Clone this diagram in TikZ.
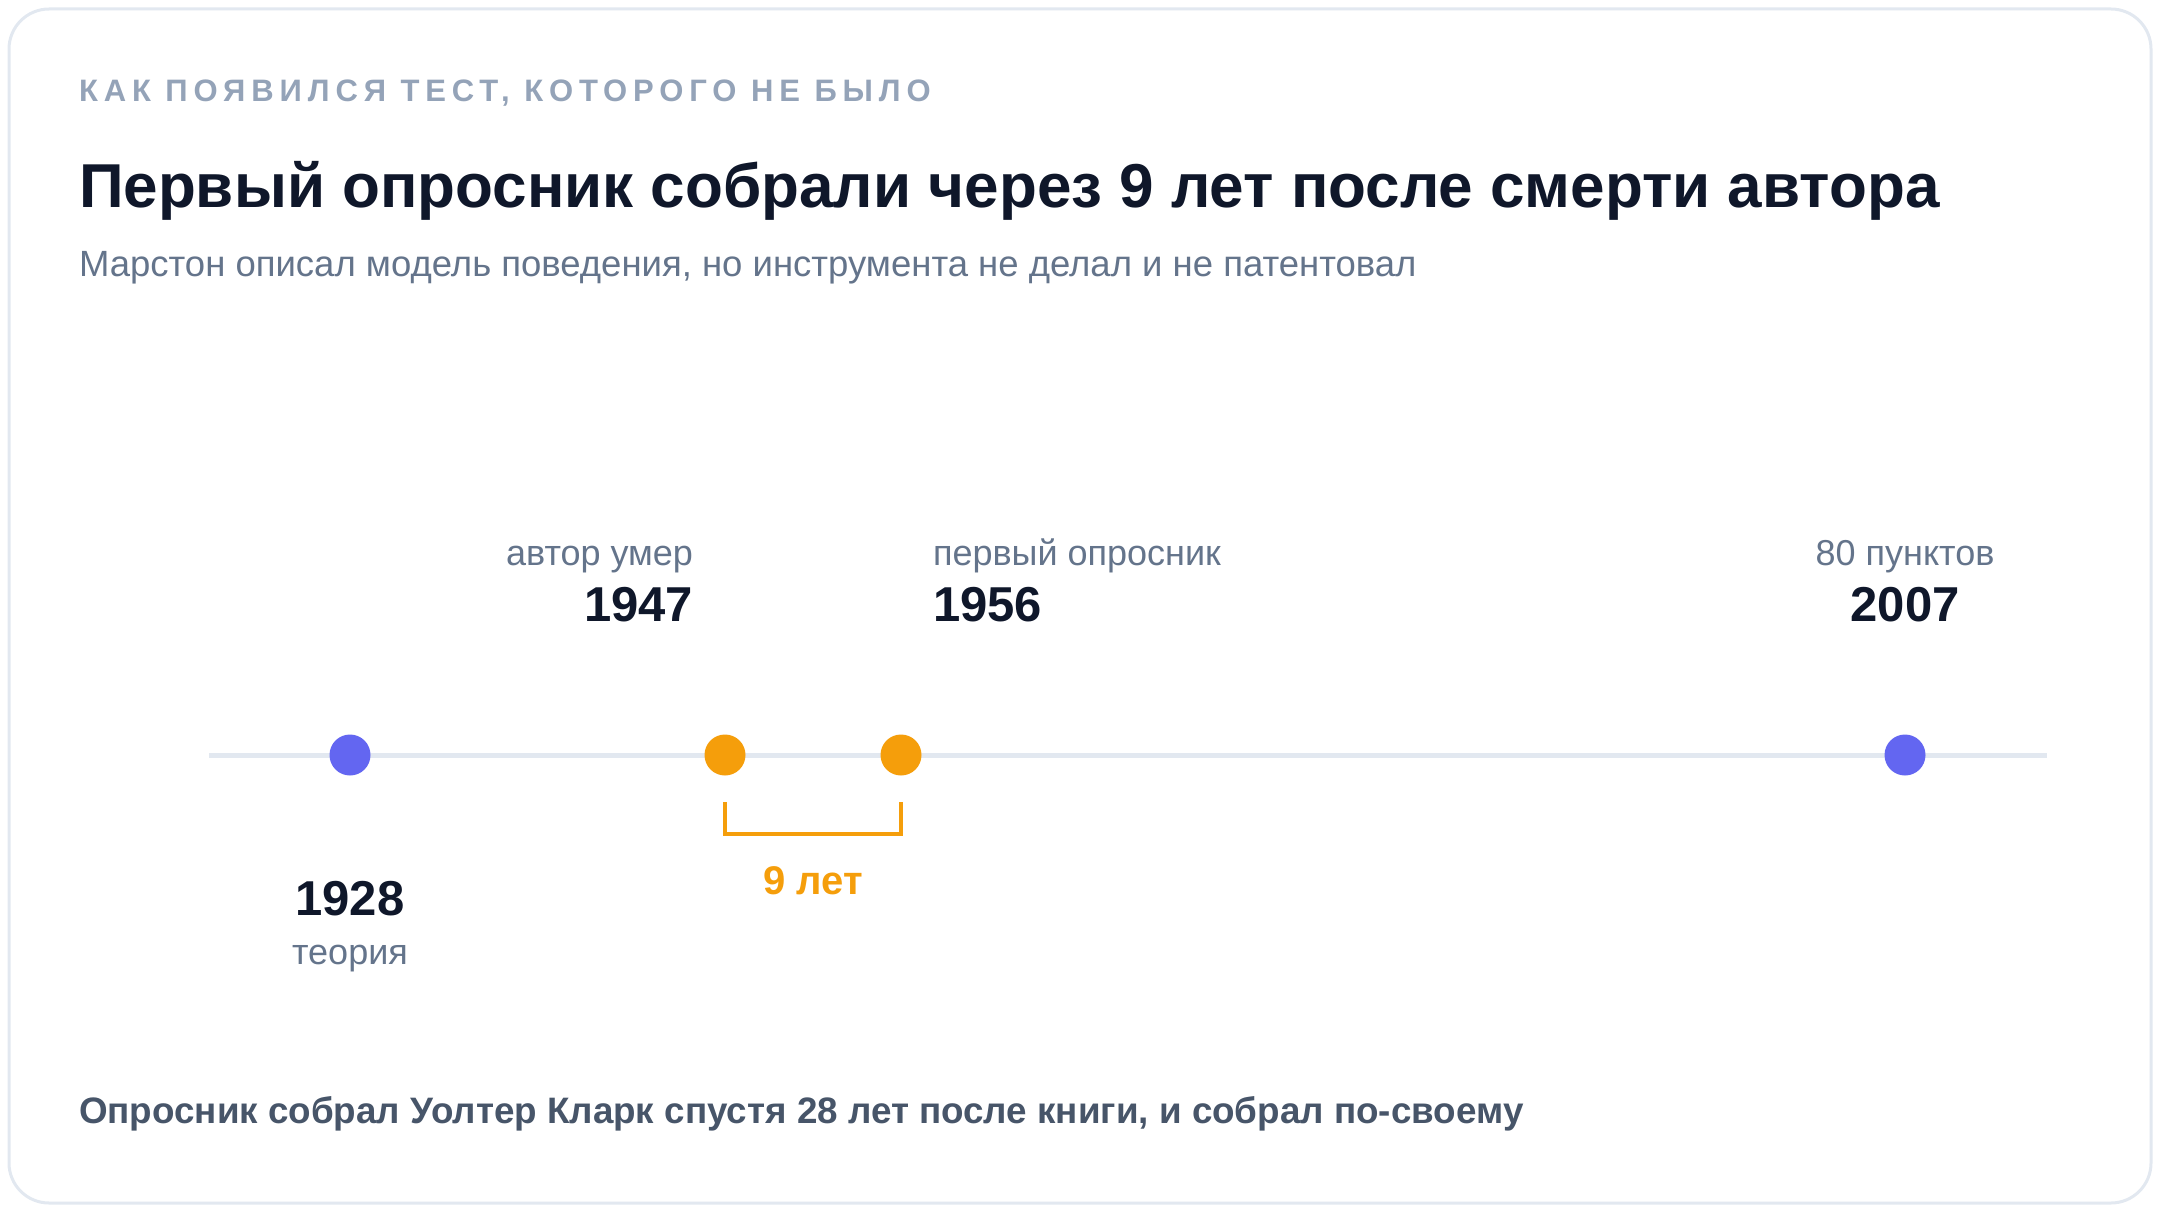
\documentclass[tikz,border=0pt]{standalone}
\usepackage{fontspec}
\setmainfont{Liberation Sans}
\usetikzlibrary{positioning}

\definecolor{ink}{HTML}{0F172A}
\definecolor{slate}{HTML}{64748B}
\definecolor{kick}{HTML}{94A3B8}
\definecolor{foot}{HTML}{475569}
\definecolor{rail}{HTML}{E2E8F0}
\definecolor{indigo}{HTML}{6366F1}
\definecolor{amber}{HTML}{F59E0B}

\begin{document}
\begin{tikzpicture}[x=1pt, y=-1pt,
  every node/.style={inner sep=0, outer sep=0},
  dot/.style={circle, minimum size=41, fill=#1},
  note/.style={text=slate, font=\fontsize{36}{42}\selectfont},
  year/.style={text=ink, font=\fontsize{49}{60}\selectfont\bfseries}]
  \useasboundingbox (0,0) rectangle (2160,1212);

  % Card
  \draw[line width=3, draw=rail, fill=white, rounded corners=40] (9,9) rectangle (2151,1203);

  % Heading
  \draw (79,102) node(kicker) [anchor=base west, text=kick,
    font=\fontsize{31}{36}\selectfont\bfseries\addfontfeature{LetterSpace=19}]
    {КАК ПОЯВИЛСЯ ТЕСТ, КОТОРОГО НЕ БЫЛО};
  \draw (79,207) node(title) [anchor=base west, text=ink, font=\fontsize{62}{76}\selectfont\bfseries]
    {Первый опросник собрали через 9 лет после смерти автора};
  \draw (79,276) node(sub) [anchor=base west, text=slate, font=\fontsize{36.5}{42}\selectfont]
    {Марстон описал модель поведения, но инструмента не делал и не патентовал};

  % Timeline
  \coordinate (lstart) at (209,755);
  \coordinate (lend) at (2047,755);
  \draw[rail, line width=5] (lstart) -- (lend);

  % Nodes
  \draw (350,755)  node(d28) [dot=indigo] {};
  \draw (725,755)  node(d47) [dot=amber] {};
  \draw (901,755)  node(d56) [dot=amber] {};
  \draw (1905,755) node(d07) [dot=indigo] {};

  % Labels
  \draw (350,915)  node(y28) [year, anchor=base] {1928};
  \draw (350,964)  node(n28) [note, anchor=base] {теория};
  \draw (693,621)  node(y47) [year, anchor=base east] {1947};
  \draw (693,565)  node(n47) [note, anchor=base east] {автор умер};
  \draw (933,621)  node(y56) [year, anchor=base west] {1956};
  \draw (933,565)  node(n56) [note, anchor=base west] {первый опросник};
  \draw (1905,621) node(y07) [year, anchor=base] {2007};
  \draw (1905,565) node(n07) [note, anchor=base] {80 пунктов};

  % Gap
  \draw[amber, line width=4] ([yshift=-47]d47.center) -- ([yshift=-79]d47.center)
    -- ([yshift=-79]d56.center) -- ([yshift=-47]d56.center);
  \draw (813,894) node(gap) [anchor=base, text=amber, font=\fontsize{40}{48}\selectfont\bfseries] {9 лет};

  % Footer
  \draw (79,1123) node(foot) [anchor=base west, text=foot, font=\fontsize{36.8}{44}\selectfont\bfseries]
    {Опросник собрал Уолтер Кларк спустя 28 лет после книги, и собрал по-своему};
\end{tikzpicture}
\end{document}
